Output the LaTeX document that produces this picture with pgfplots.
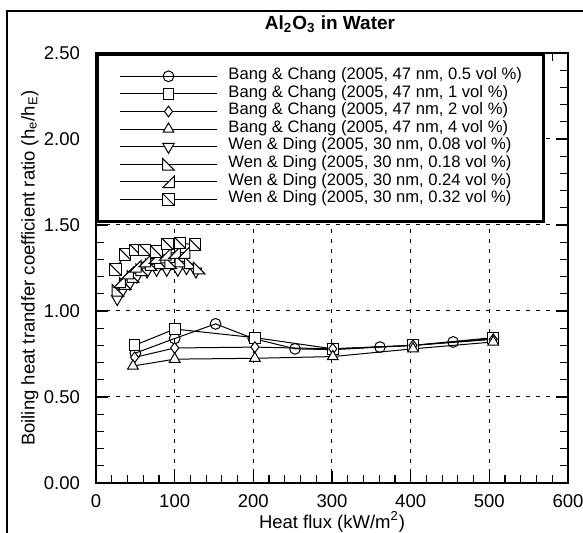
\documentclass[border=0pt]{standalone}
\usepackage{fontspec}
\setmainfont{Liberation Sans}
\usepackage{pgfplots}
\pgfplotsset{compat=1.18}

\pgfdeclareplotmark{sqdiag}{%
 \pgfpathrectangle{\pgfpoint{-\pgfplotmarksize}{-\pgfplotmarksize}}{\pgfpoint{2\pgfplotmarksize}{2\pgfplotmarksize}}%
 \pgfusepathqfillstroke
 \pgfpathmoveto{\pgfpoint{-\pgfplotmarksize}{\pgfplotmarksize}}%
 \pgfpathlineto{\pgfpoint{\pgfplotmarksize}{-\pgfplotmarksize}}%
 \pgfusepathqstroke}
\pgfdeclareplotmark{rtriA}{%
 \pgfpathmoveto{\pgfpoint{-\pgfplotmarksize}{\pgfplotmarksize}}%
 \pgfpathlineto{\pgfpoint{-\pgfplotmarksize}{-\pgfplotmarksize}}%
 \pgfpathlineto{\pgfpoint{\pgfplotmarksize}{-\pgfplotmarksize}}%
 \pgfpathclose
 \pgfusepathqfillstroke}
\pgfdeclareplotmark{rtriB}{%
 \pgfpathmoveto{\pgfpoint{\pgfplotmarksize}{\pgfplotmarksize}}%
 \pgfpathlineto{\pgfpoint{\pgfplotmarksize}{-\pgfplotmarksize}}%
 \pgfpathlineto{\pgfpoint{-\pgfplotmarksize}{-\pgfplotmarksize}}%
 \pgfpathclose
 \pgfusepathqfillstroke}

\pgfplotsset{ser/.style={black, solid, line width=0.5pt, mark options={solid, fill=white, draw=black, line width=0.5pt}}}

\begin{document}
\begin{tikzpicture}
\useasboundingbox (-48pt,-25pt) rectangle (243.5pt,241.5pt);
\begin{axis}[
  at={(0,0)}, anchor=south west,
  scale only axis, width=236pt, height=215pt,
  xmin=0, xmax=600, ymin=0, ymax=2.5,
  xtick={0,100,...,600}, ytick={0,0.5,...,2.5},
  minor x tick num=4, minor y tick num=4,
  tick align=inside, xtick pos=both, ytick pos=both,
  major tick length=6pt, minor tick length=4pt,
  grid=major,
  major grid style={black, line width=0.5pt, dash pattern=on 2pt off 3pt},
  axis line style={line width=1pt},
  tick style={black, line width=0.6pt},
  /pgf/number format/assume math mode=true,
  yticklabel style={/pgf/number format/fixed, /pgf/number format/fixed zerofill, /pgf/number format/precision=2, xshift=-4.5pt},
  ticklabel style={font=\fontsize{9.25}{10}\selectfont},
  xticklabel style={yshift=-2.5pt},
  xlabel={Heat flux (kW/m\textsuperscript{2})},
  ylabel={Boiling heat trandfer coefficient ratio (h\textsubscript{e}/h\textsubscript{E})},
  label style={font=\fontsize{9.25}{10}\selectfont},
  xlabel style={at={(axis description cs:0.5,-0.0907)}, anchor=center},
  ylabel style={at={(axis description cs:-0.14,0.5)}, anchor=center},
  legend image code/.code={\draw[mark repeat=2,mark phase=2] plot coordinates {(0pt,0pt) (24.25pt,0pt) (48.5pt,0pt)};},
  legend cell align=left,
  legend style={at={(rel axis cs:0,1)}, anchor=north west, draw=black, line width=1.5pt, fill=white,
    font=\fontsize{8.3}{8.8}\selectfont, inner xsep=11pt, inner ysep=6.5pt,
    nodes={inner sep=0pt, text height=6pt, text depth=2.8pt},
    /tikz/every odd column/.style={column sep=5.5pt}, row sep=0pt},
]
\addplot[ser, mark=o, mark size=2.7pt] coordinates {(50,0.755) (100,0.84) (152,0.925) (200,0.84) (253,0.78) (301,0.775) (361,0.79) (403,0.80) (454,0.82) (505,0.84)};
\addlegendentry{Bang \& Chang (2005, 47 nm, 0.5 vol \%)}
\addplot[ser, mark=square*, mark size=2.7pt] coordinates {(49,0.80) (100,0.895) (202,0.845) (301,0.78) (403,0.80) (505,0.845)};
\addlegendentry{Bang \& Chang (2005, 47 nm, 1 vol \%)}
\addplot[ser, mark=diamond*, mark size=2.7pt] coordinates {(49,0.73) (100,0.785) (202,0.79) (301,0.78) (403,0.80) (505,0.835)};
\addlegendentry{Bang \& Chang (2005, 47 nm, 2 vol \%)}
\addplot[ser, mark=triangle*, mark size=3.1pt] coordinates {(47,0.68) (100,0.72) (202,0.725) (301,0.735) (403,0.78) (505,0.82)};
\addlegendentry{Bang \& Chang (2005, 47 nm, 4 vol \%)}
\addplot[ser, mark=triangle*, mark size=3.3pt, mark options={solid, fill=white, draw=black, line width=0.5pt, rotate=180}] coordinates {(27,1.07) (34,1.12) (43,1.16) (52,1.20) (65,1.23) (77,1.24) (90,1.24) (104,1.24) (115,1.25) (127,1.23)};
\addlegendentry{Wen \& Ding (2005, 30 nm, 0.08 vol \%)}
\addplot[ser, mark=rtriA, mark size=2.9pt] coordinates {(28,1.12) (37,1.16) (47,1.20) (58,1.24) (70,1.27) (82,1.28) (95,1.28) (108,1.29) (120,1.28) (131,1.25)};
\addlegendentry{Wen \& Ding (2005, 30 nm, 0.18 vol \%)}
\addplot[ser, mark=rtriB, mark size=2.9pt] coordinates {(30,1.17) (40,1.22) (50,1.26) (62,1.29) (75,1.31) (88,1.33) (100,1.34) (112,1.34)};
\addlegendentry{Wen \& Ding (2005, 30 nm, 0.24 vol \%)}
\addplot[ser, mark=sqdiag, mark size=2.9pt] coordinates {(25,1.24) (37,1.33) (50,1.355) (62,1.355) (77,1.345) (91,1.39) (107,1.395) (126,1.385)};
\addlegendentry{Wen \& Ding (2005, 30 nm, 0.32 vol \%)}
\end{axis}
\draw[line width=0.7pt] (-44.5pt,-30pt) -- (-44.5pt,236pt) -- (250pt,236pt);
\node[font=\bfseries\fontsize{9.5}{10}\selectfont] at (117pt,229.5pt) {Al\textsubscript{2}O\textsubscript{3} in Water};
\end{tikzpicture}
\end{document}
